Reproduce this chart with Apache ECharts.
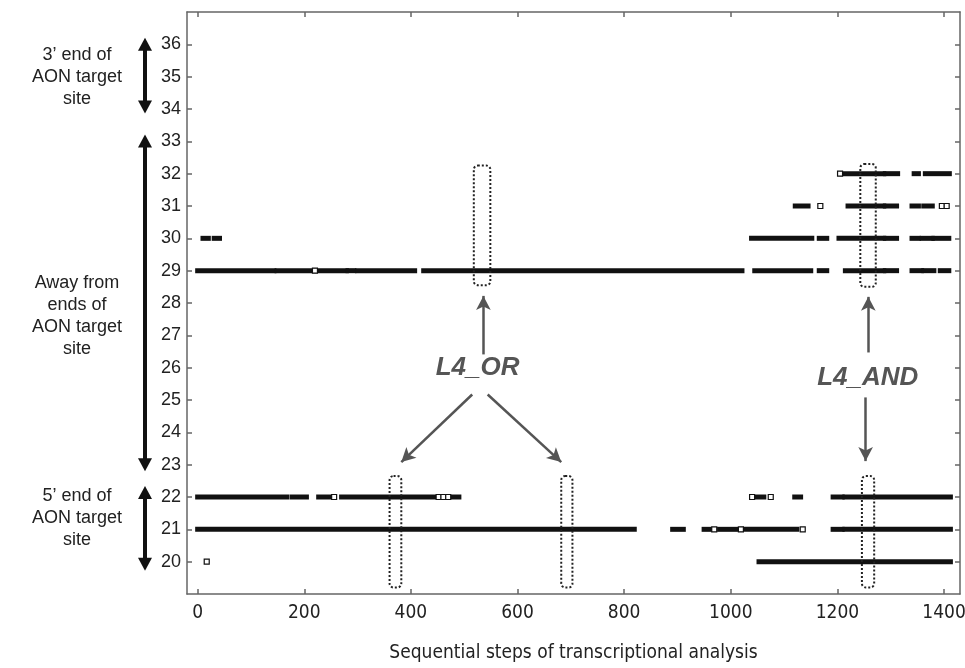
<!DOCTYPE html>
<html>
<head>
<meta charset="utf-8">
<script src="https://cdn.jsdelivr.net/npm/echarts@6/dist/echarts.min.js"></script>
<style>
html,body{margin:0;padding:0;background:#fff;}
#chart{width:965px;height:668px;}
</style>
</head>
<body>
<div id="chart"></div>
<script>
// filled runs [first step, last step] for each position row
var row20 = [[1053,1412]];
var row21 = [[0,819],[891,911],[950,961],[979,1009],[1021,1124],[1192,1209],[1214,1412]];
var row22 = [[0,167],[177,204],[227,254],[270,450],[476,490],[1049,1062],[1120,1131],[1192,1209],[1214,1412]];
var row29 = [[0,143],[149,279],[282,293],[300,407],[424,1021],[1045,1150],[1166,1180],[1215,1287],[1290,1311],[1340,1358],[1362,1381],[1393,1409]];
var row30 = [[10,20],[31,41],[1039,1152],[1166,1180],[1203,1287],[1290,1311],[1340,1352],[1359,1378],[1381,1409]];
var row31 = [[1121,1145],[1220,1287],[1290,1311],[1340,1352],[1362,1378]];
var row32 = [[1209,1287],[1290,1313],[1344,1352],[1365,1410]];

// single open markers
var open20 = [17];
var open21 = [969,1019,1135];
var open22 = [256,452,461,470,1040,1075];
var open29 = [220];
var open31 = [1168,1396,1405];
var open32 = [1205];

// dotted boxes [x0, x1, y0, y1]
var boxes = [[518,549,28.55,32.25],[1243,1272,28.5,32.3],[360,382,19.2,22.65],[682,703,19.2,22.65],[1246,1269,19.2,22.65]];

var xTicks = [0,200,400,600,800,1000,1200,1400];
var yTicks = [20,21,22,23,24,25,26,27,28,29,30,31,32,33,34,35,36];

var rows = [[20,row20],[21,row21],[22,row22],[29,row29],[30,row30],[31,row31],[32,row32]];
var opens = [[20,open20],[21,open21],[22,open22],[29,open29],[31,open31],[32,open32]];

var segData = [];
rows.forEach(function (r){
  r[1].forEach(function (s){ segData.push([s[0], s[1], r[0]]); });
});
var openData = [];
opens.forEach(function (r){
  r[1].forEach(function (x){ openData.push([x, r[0]]); });
});

var axisCol = '#666';
var narrow = '"Liberation Sans Narrow","DejaVu Sans Condensed","Arial Narrow",sans-serif';

var chart = echarts.init(document.getElementById('chart'));

function renderSeg(params, api){
  var a = api.coord([api.value(0), api.value(2)]);
  var b = api.coord([api.value(1), api.value(2)]);
  return {
    type: 'rect',
    shape: {x: a[0] - 2.5, y: a[1] - 2.5, width: b[0] - a[0] + 5, height: 5},
    style: {fill: '#111'}
  };
}
function renderBox(params, api){
  var a = api.coord([api.value(0), api.value(3)]);
  var b = api.coord([api.value(1), api.value(2)]);
  return {
    type: 'rect',
    shape: {x: a[0], y: a[1], width: b[0] - a[0], height: b[1] - a[1], r: 4},
    style: {fill: 'transparent', stroke: '#222', lineWidth: 2, lineDash: [2, 2]}
  };
}

var option = {
  animation: false,
  grid: {left: 187, right: 5, top: 12, bottom: 74, outerBoundsMode: 'none'},
  xAxis: [{
    type: 'value', min: -20, max: 1430,
    name: 'Sequential steps of transcriptional analysis',
    nameLocation: 'middle', nameGap: 50,
    nameTextStyle: {fontFamily: narrow, fontSize: 19, color: '#222'},
    axisLine: {show: true, onZero: false, lineStyle: {color: axisCol, width: 1.5}},
    axisTick: {inside: true, length: 5, customValues: xTicks, lineStyle: {color: axisCol, width: 1.5}},
    axisLabel: {customValues: xTicks, margin: 10, fontFamily: narrow, fontSize: 19, color: '#222',
      formatter: function (v){ return String(v); }},
    splitLine: {show: false}
  }, {
    type: 'value', position: 'top', min: -20, max: 1430,
    axisLine: {show: true, onZero: false, lineStyle: {color: axisCol, width: 1.5}},
    axisTick: {inside: true, length: 5, customValues: xTicks, lineStyle: {color: axisCol, width: 1.5}},
    axisLabel: {show: false},
    splitLine: {show: false}
  }],
  yAxis: [{
    type: 'value', min: 19, max: 37,
    axisLine: {show: true, onZero: false, lineStyle: {color: axisCol, width: 1.5}},
    axisTick: {inside: true, length: 5, customValues: yTicks, lineStyle: {color: axisCol, width: 1.5}},
    axisLabel: {customValues: yTicks, margin: 6, fontFamily: 'Liberation Sans, Arial, sans-serif', fontSize: 18, color: '#222'},
    splitLine: {show: false}
  }, {
    type: 'value', position: 'right', min: 19, max: 37,
    axisLine: {show: true, onZero: false, lineStyle: {color: axisCol, width: 1.5}},
    axisTick: {inside: true, length: 5, customValues: yTicks, lineStyle: {color: axisCol, width: 1.5}},
    axisLabel: {show: false},
    splitLine: {show: false}
  }],
  series: [
    {
      type: 'custom', name: 'runs',
      renderItem: renderSeg,
      encode: {x: [0, 1], y: 2},
      data: segData
    },
    {
      type: 'scatter', name: 'single',
      symbol: 'rect', symbolSize: 5,
      itemStyle: {color: '#fff', borderColor: '#111', borderWidth: 1.2, opacity: 1},
      data: openData
    },
    {
      type: 'custom', name: 'boxes',
      renderItem: renderBox,
      encode: {x: [0, 1], y: [2, 3]},
      data: boxes,
      z: 5,
      markLine: {
        silent: true,
        symbol: ['none', 'arrow'],
        symbolSize: [11, 14],
        label: {show: false},
        lineStyle: {color: '#555', width: 2.5, type: 'solid'},
        data: [
          [{coord: [536, 26.41]}, {coord: [536, 28.22]}],
          [{coord: [515, 25.17]}, {coord: [382, 23.08]}],
          [{coord: [544, 25.17]}, {coord: [682, 23.08]}],
          [{coord: [1258, 26.47]}, {coord: [1258, 28.19]}],
          [{coord: [1253, 25.08]}, {coord: [1253, 23.11]}]
        ]
      },
      markPoint: {
        silent: true,
        symbol: 'circle', symbolSize: 1,
        itemStyle: {color: 'rgba(0,0,0,0)'},
        label: {show: true, position: 'inside', formatter: '{b}', color: '#555',
          fontFamily: 'Liberation Sans, Arial, sans-serif', fontStyle: 'italic', fontWeight: 'bold', fontSize: 26},
        data: [
          {name: 'L4_OR', coord: [525, 26.0]},
          {name: 'L4_AND', coord: [1257, 25.7]}
        ]
      }
    }
  ]
};
chart.setOption(option);

// side annotations, placed with the y scale
function yp(v){ return chart.convertToPixel({yAxisIndex: 0}, v); }
function dblArrow(x, top, bot){
  var t = yp(top), b = yp(bot);
  return [
    {type: 'line', shape: {x1: x, y1: t + 8, x2: x, y2: b - 8}, style: {stroke: '#111', lineWidth: 4}},
    {type: 'polygon', shape: {points: [[x, t], [x - 7, t + 13], [x + 7, t + 13]]}, style: {fill: '#111'}},
    {type: 'polygon', shape: {points: [[x, b], [x - 7, b - 13], [x + 7, b - 13]]}, style: {fill: '#111'}}
  ];
}
function sideText(txt, v){
  return {type: 'text', x: 77, y: yp(v),
    style: {text: txt, align: 'center', verticalAlign: 'middle', lineHeight: 22,
      fontSize: 18, fontFamily: 'Liberation Sans, Arial, sans-serif', fill: '#222'}};
}
var els = [].concat(
  dblArrow(145, 36.2, 33.86),
  dblArrow(145, 33.21, 22.8),
  dblArrow(145, 22.34, 19.72),
  [sideText("3’ end of\nAON target\nsite", 35.0),
   sideText("Away from\nends of\nAON target\nsite", 27.6),
   sideText("5’ end of\nAON target\nsite", 21.35)]
);
chart.setOption({graphic: els});
</script>
</body>
</html>
